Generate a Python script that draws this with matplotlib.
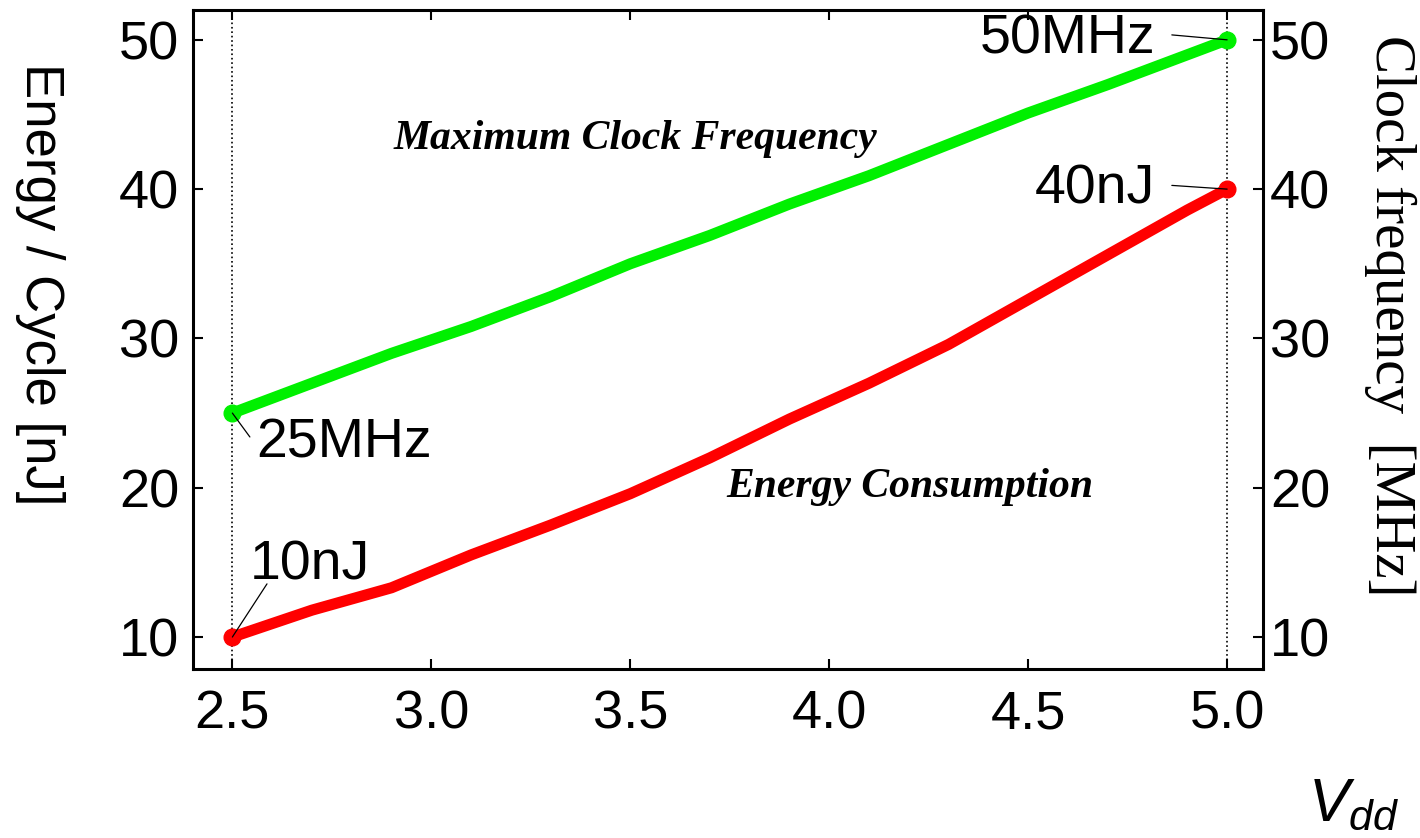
import matplotlib
matplotlib.use('Agg')
import matplotlib.pyplot as plt

plt.rcParams['font.family'] = 'Liberation Sans'
plt.rcParams['mathtext.fontset'] = 'custom'
plt.rcParams['mathtext.it'] = 'Liberation Sans:italic'
plt.rcParams['mathtext.rm'] = 'Liberation Sans'

# supply voltage (V)
vdd = [2.5, 2.7, 2.9, 3.1, 3.3, 3.5, 3.7, 3.9, 4.1, 4.3, 4.5, 4.7, 4.9, 5.0]
# maximum clock frequency (MHz)
freq = [25.0, 27.0, 29.0, 30.8, 32.8, 35.0, 36.9, 39.0, 40.9, 43.0, 45.1, 47.0, 49.0, 50.0]
# energy per cycle (nJ)
energy = [10.0, 11.8, 13.3, 15.5, 17.5, 19.6, 22.0, 24.6, 27.0, 29.6, 32.6, 35.6, 38.6, 40.0]

xticks = [2.5, 3.0, 3.5, 4.0, 4.5, 5.0]
yticks = [10, 20, 30, 40, 50]

green = '#00f000'
red = '#ff0000'

fig = plt.figure(figsize=(14.2, 8.38), dpi=100)
ax = fig.add_axes([0.1359, 0.2017, 0.7535, 0.7864])

ax.axvline(vdd[0], color='k', ls=':', lw=1.2, zorder=1)
ax.axvline(vdd[-1], color='k', ls=':', lw=1.2, zorder=1)

ax.plot(vdd, freq, '-', color=green, lw=8, solid_capstyle='round',
        solid_joinstyle='round', zorder=2)
ax.plot(vdd, energy, '-', color=red, lw=8, solid_capstyle='round',
        solid_joinstyle='round', zorder=2)
ax.plot([vdd[0], vdd[-1]], [freq[0], freq[-1]], 'o', color=green, ms=12, zorder=3)
ax.plot([vdd[0], vdd[-1]], [energy[0], energy[-1]], 'o', color=red, ms=12, zorder=3)

ax.set_xlim(2.401, 5.090)
ax.set_ylim(7.86, 52.0)
ax.set_xticks(xticks)
ax.set_xticklabels(['%.1f' % v for v in xticks])
ax.set_yticks(yticks)
ax.tick_params(direction='in', length=7, width=1.5, labelsize=39, top=True)
ax.tick_params(axis='x', pad=15)
ax.tick_params(axis='y', pad=10)
for s in ax.spines.values():
    s.set_linewidth(2.2)

ax2 = ax.twinx()
ax2.set_ylim(ax.get_ylim())
ax2.set_yticks(yticks)
ax2.tick_params(direction='in', length=7, width=1.5, labelsize=39, pad=5)

# endpoint labels and leader lines
arr = dict(arrowstyle='-', color='k', lw=0.9, shrinkA=0, shrinkB=0)
ax.text(4.819, 50.0, '50MHz', fontsize=40, ha='right', va='center')
ax.annotate('', xy=(vdd[-1], freq[-1]), xytext=(4.861, 50.33), arrowprops=arr)
ax.text(4.819, 40.0, '40nJ', fontsize=40, ha='right', va='center')
ax.annotate('', xy=(vdd[-1], energy[-1]), xytext=(4.861, 40.25), arrowprops=arr)
ax.text(2.56, 22.0, '25MHz', fontsize=40, ha='left', va='baseline')
ax.annotate('', xy=(vdd[0], freq[0]), xytext=(2.544, 23.4), arrowprops=arr)
ax.text(2.544, 13.83, '10nJ', fontsize=40, ha='left', va='baseline')
ax.annotate('', xy=(vdd[0], energy[0]), xytext=(2.587, 13.56), arrowprops=arr)

ax.text(3.514, 42.7, 'Maximum Clock Frequency', family='Liberation Serif',
        style='italic', weight='bold', fontsize=30, ha='center', va='baseline')
ax.text(4.203, 19.4, 'Energy Consumption', family='Liberation Serif',
        style='italic', weight='bold', fontsize=30, ha='center', va='baseline')

fig.text(0.028, 0.661, 'Energy / Cycle [nJ]', rotation=270, fontsize=38,
         ha='center', va='center')
fig.text(0.979, 0.623, 'Clock frequency  [MHz]', rotation=270, fontsize=41,
         family='Liberation Serif', ha='center', va='center')
fig.text(0.921, 0.0215, r'$V_{dd}$', fontsize=44, ha='left', va='baseline')

fig.savefig('out.png', dpi=100)
